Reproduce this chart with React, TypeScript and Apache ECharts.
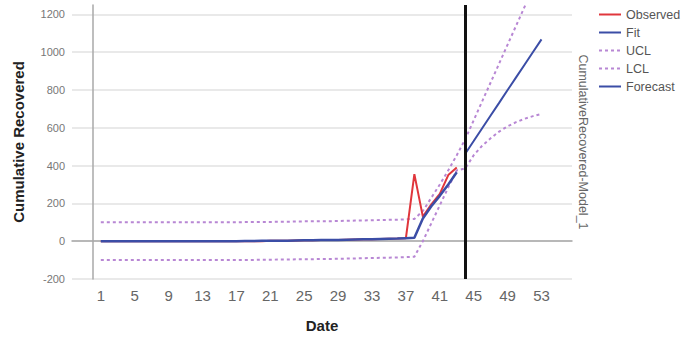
import React, { useEffect, useRef } from "react";
import * as echarts from "echarts";

const fitDates = [1, 2, 3, 4, 5, 6, 7, 8, 9, 10, 11, 12, 13, 14, 15, 16, 17, 18, 19, 20, 21, 22, 23, 24, 25, 26, 27, 28, 29, 30, 31, 32, 33, 34, 35, 36, 37, 38, 39, 40, 41, 42, 43];
const forecastDates = [44, 45, 46, 47, 48, 49, 50, 51, 52, 53];
const allDates = [...fitDates, ...forecastDates];

const observed = [0, 0, 0, 0, 0, 0, 0, 0, 0, 0, 0, 0, 0, 0, 0, 0, 0, 0, 0, 0, 2, 3, 3, 4, 5, 5, 6, 6, 7, 8, 9, 10, 11, 12, 13, 14, 16, 355, 130, 195, 250, 350, 390];
const fit = [0, 0, 0, 0, 0, 0, 0, 0, 0, 0, 0, 0, 0, 0, 0, 0, 0, 1, 1, 2, 2, 3, 3, 4, 5, 5, 6, 6, 7, 8, 9, 10, 11, 12, 13, 14, 16, 18, 120, 185, 240, 300, 365];
const ucl = [100, 100, 100, 100, 100, 100, 100, 100, 100, 100, 100, 100, 100, 100, 100, 100, 100, 101, 101, 102, 102, 103, 103, 104, 105, 105, 106, 106, 107, 108, 109, 110, 111, 112, 113, 114, 116, 118, 160, 230, 300, 375, 455, 540, 640, 740, 840, 940, 1040, 1140, 1240, 1340, 1440];
const lcl = [-100, -100, -100, -100, -100, -100, -100, -100, -100, -100, -100, -100, -100, -100, -100, -100, -100, -99, -99, -98, -98, -97, -97, -96, -95, -95, -94, -94, -93, -92, -91, -90, -89, -88, -87, -86, -84, -82, 0, 95, 190, 285, 375, 385, 455, 505, 545, 580, 608, 630, 648, 662, 674];
const forecast = [463, 530, 598, 665, 732, 800, 867, 934, 1001, 1068];

const forecastStart = 44;
const xTickLabels = [1, 5, 9, 13, 17, 21, 25, 29, 33, 37, 41, 45, 49, 53];
const yTickValues = [-200, 0, 200, 400, 600, 800, 1000, 1200];

const FONT = "'Liberation Sans', Arial, sans-serif";
const pair = (xs: number[], ys: number[]) => xs.map((x, i) => [x, ys[i]]);

export default function App() {
  const ref = useRef<HTMLDivElement>(null);
  useEffect(() => {
    if (!ref.current) return;
    const chart = echarts.init(ref.current, null, { renderer: "svg" });
    const dotted = { color: "#b887d4", width: 2, type: [3, 3] as any };
    chart.setOption({
      animation: false,
      backgroundColor: "#ffffff",
      textStyle: { fontFamily: FONT },
      grid: { left: 72, right: 111, top: 5, bottom: 57 },
      legend: {
        orient: "vertical",
        left: 598,
        top: 8,
        padding: 0,
        itemWidth: 22,
        itemHeight: 10,
        itemGap: 5,
        itemStyle: { opacity: 0 },
        textStyle: { fontSize: 12.5, color: "#555", fontFamily: FONT },
        data: ["Observed", "Fit", "UCL", "LCL", "Forecast"],
      },
      graphic: [
        {
          type: "text",
          x: 583,
          y: 142,
          rotation: -Math.PI / 2,
          style: {
            text: "CumulativeRecovered-Model_1",
            fontSize: 12.5,
            fontFamily: FONT,
            fill: "#666",
            textAlign: "center",
            textVerticalAlign: "middle",
          },
        },
      ],
      xAxis: {
        type: "value",
        min: -2.4,
        max: 56.6,
        name: "Date",
        nameLocation: "middle",
        nameGap: 39,
        nameTextStyle: { fontSize: 15, fontWeight: "bold", color: "#222", fontFamily: FONT },
        axisLine: { lineStyle: { color: "#a8a8a8", width: 1.5 } },
        axisTick: { show: false },
        splitLine: { show: false },
        axisLabel: {
          customValues: xTickLabels,
          fontSize: 15,
          color: "#666",
          margin: 9,
          fontFamily: FONT,
        },
      },
      yAxis: {
        type: "value",
        min: -200,
        max: 1250,
        interval: 200,
        name: "Cumulative Recovered",
        nameLocation: "middle",
        nameGap: 46,
        nameTextStyle: { fontSize: 15, fontWeight: "bold", color: "#222", fontFamily: FONT },
        axisLine: { show: true, lineStyle: { color: "#a8a8a8", width: 1.5 } },
        axisTick: { show: false, customValues: yTickValues },
        splitLine: { show: true, lineStyle: { color: "#e2e2e2", width: 1.5 } },
        axisLabel: {
          customValues: yTickValues,
          formatter: (v: number) => String(v),
          fontSize: 11,
          color: "#777",
          margin: 7,
          fontFamily: FONT,
        },
      },
      series: [
        {
          name: "Observed",
          type: "line",
          data: pair(fitDates, observed),
          symbol: "none",
          color: "#e0363c",
          lineStyle: { color: "#e0363c", width: 2 },
          z: 2,
        },
        {
          name: "Fit",
          type: "line",
          data: pair(fitDates, fit),
          symbol: "none",
          color: "#3b4da6",
          lineStyle: { color: "#3b4da6", width: 2.5 },
          z: 3,
        },
        {
          name: "UCL",
          type: "line",
          data: pair(allDates, ucl),
          symbol: "none",
          color: "#b887d4",
          lineStyle: dotted,
          z: 1,
        },
        {
          name: "LCL",
          type: "line",
          data: pair(allDates, lcl),
          symbol: "none",
          color: "#b887d4",
          lineStyle: dotted,
          z: 1,
        },
        {
          name: "Forecast",
          type: "line",
          data: pair(forecastDates, forecast),
          symbol: "none",
          color: "#3b4da6",
          lineStyle: { color: "#3b4da6", width: 2 },
          z: 3,
          markLine: {
            silent: true,
            symbol: "none",
            label: { show: false },
            lineStyle: { color: "#111", width: 3, type: "solid" },
            data: [{ xAxis: forecastStart }],
          },
        },
      ],
    });
    return () => chart.dispose();
  }, []);
  return (
    <div
      ref={ref}
      style={{ position: "fixed", left: 0, top: 0, width: 683, height: 338 }}
    />
  );
}
